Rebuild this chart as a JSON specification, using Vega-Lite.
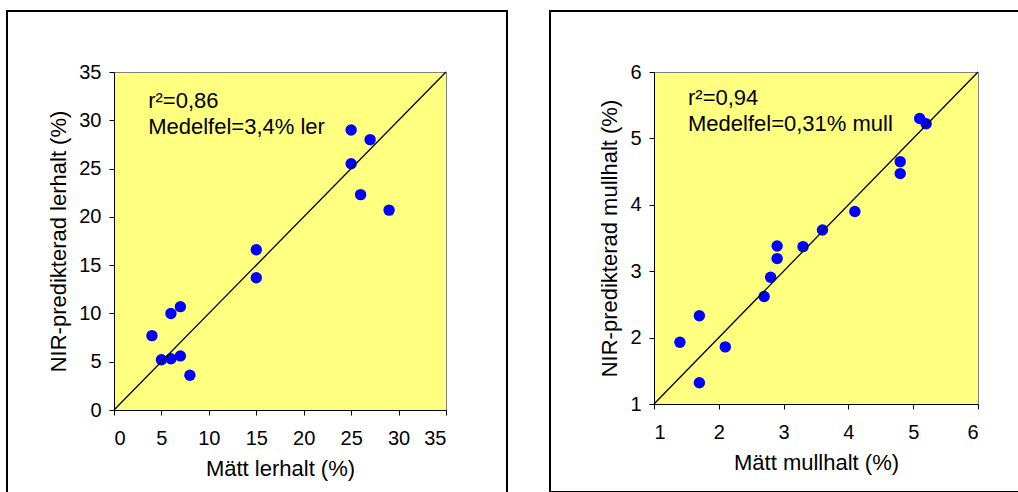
{
  "$schema": "https://vega.github.io/schema/vega-lite/v6.json",
  "padding": {"left": 5, "top": 9, "right": 0, "bottom": 0},
  "autosize": {"type": "pad"},
  "background": "white",
  "spacing": 39,
  "config": {
    "font": "Liberation Sans",
    "view": {"stroke": "#808080", "strokeWidth": 1, "fill": "#FFFF80"},
    "axis": {
      "grid": false,
      "domainColor": "black",
      "tickColor": "black",
      "tickSize": 5,
      "labelFontSize": 20,
      "labelColor": "black",
      "labelFont": "Liberation Sans",
      "titleFont": "Liberation Sans",
      "titleFontSize": 22,
      "titleFontWeight": "normal",
      "titleColor": "black"
    },
    "axisX": {"labelPadding": 13, "titlePadding": 10},
    "axisY": {"labelPadding": 8, "titlePadding": 8}
  },
  "hconcat": [
    {
      "width": 332,
      "height": 338,
      "layer": [
        {
          "data": {"values": [
            {"matt": 25, "pred": 29},
            {"matt": 27, "pred": 28},
            {"matt": 25, "pred": 25.5},
            {"matt": 26, "pred": 22.3},
            {"matt": 29, "pred": 20.7},
            {"matt": 15, "pred": 16.6},
            {"matt": 15, "pred": 13.7},
            {"matt": 7, "pred": 10.7},
            {"matt": 6, "pred": 10},
            {"matt": 4, "pred": 7.7},
            {"matt": 5, "pred": 5.2},
            {"matt": 6, "pred": 5.3},
            {"matt": 7, "pred": 5.6},
            {"matt": 8, "pred": 3.6}
          ]},
          "mark": {"type": "circle", "size": 130, "color": "#0000FF", "opacity": 1},
          "encoding": {
            "x": {"field": "matt", "type": "quantitative",
                  "scale": {"domain": [0, 35], "nice": false, "zero": false},
                  "axis": {"values": [0, 5, 10, 15, 20, 25, 30, 35], "format": "d", "title": "Mätt lerhalt (%)"}},
            "y": {"field": "pred", "type": "quantitative",
                  "scale": {"domain": [0, 35], "nice": false, "zero": false},
                  "axis": {"values": [0, 5, 10, 15, 20, 25, 30, 35], "format": "d", "title": "NIR-predikterad lerhalt (%)"}}
          }
        },
        {
          "data": {"values": [{}]},
          "mark": {"type": "rule", "color": "black", "strokeWidth": 1.3},
          "encoding": {"x": {"datum": 0}, "y": {"datum": 0}, "x2": {"datum": 35}, "y2": {"datum": 35}}
        },
        {
          "data": {"values": [{}]},
          "mark": {"type": "text", "text": ["r²=0,86", "Medelfel=3,4% ler"], "align": "left", "baseline": "alphabetic", "lineHeight": 26, "fontSize": 22, "color": "black"},
          "encoding": {"x": {"datum": 3.6}, "y": {"datum": 31.3}}
        },
        {
          "data": {"values": [{}]},
          "mark": {"type": "rule", "color": "black", "strokeWidth": 2, "clip": false, "strokeCap": "square"},
          "encoding": {"x": {"datum": -11.28}, "x2": {"datum": 41.43}, "y": {"datum": 41.32}}
        },
        {
          "data": {"values": [{}]},
          "mark": {"type": "rule", "color": "black", "strokeWidth": 2, "clip": false, "strokeCap": "square"},
          "encoding": {"x": {"datum": -11.28}, "y": {"datum": -8.49}, "y2": {"datum": 41.32}}
        },
        {
          "data": {"values": [{}]},
          "mark": {"type": "rule", "color": "black", "strokeWidth": 2, "clip": false, "strokeCap": "square"},
          "encoding": {"x": {"datum": 41.43}, "y": {"datum": -8.49}, "y2": {"datum": 41.32}}
        }
      ]
    },
    {
      "width": 324,
      "height": 332,
      "layer": [
        {
          "data": {"values": [
            {"matt": 5.1, "pred": 5.3},
            {"matt": 5.2, "pred": 5.22},
            {"matt": 4.8, "pred": 4.65},
            {"matt": 4.8, "pred": 4.47},
            {"matt": 4.1, "pred": 3.9},
            {"matt": 3.6, "pred": 3.62},
            {"matt": 3.3, "pred": 3.37},
            {"matt": 2.9, "pred": 3.38},
            {"matt": 2.9, "pred": 3.19},
            {"matt": 2.8, "pred": 2.91},
            {"matt": 2.7, "pred": 2.62},
            {"matt": 1.7, "pred": 2.33},
            {"matt": 1.4, "pred": 1.93},
            {"matt": 2.1, "pred": 1.86},
            {"matt": 1.7, "pred": 1.32}
          ]},
          "mark": {"type": "circle", "size": 130, "color": "#0000FF", "opacity": 1},
          "encoding": {
            "x": {"field": "matt", "type": "quantitative",
                  "scale": {"domain": [1, 6], "nice": false, "zero": false},
                  "axis": {"values": [1, 2, 3, 4, 5, 6], "format": "d", "title": "Mätt mullhalt (%)"}},
            "y": {"field": "pred", "type": "quantitative",
                  "scale": {"domain": [1, 6], "nice": false, "zero": false},
                  "axis": {"values": [1, 2, 3, 4, 5, 6], "format": "d", "title": "NIR-predikterad mullhalt (%)"}}
          }
        },
        {
          "data": {"values": [{}]},
          "mark": {"type": "rule", "color": "black", "strokeWidth": 1.3},
          "encoding": {"x": {"datum": 1}, "y": {"datum": 1}, "x2": {"datum": 6}, "y2": {"datum": 6}}
        },
        {
          "data": {"values": [{}]},
          "mark": {"type": "text", "text": ["r²=0,94", "Medelfel=0,31% mull"], "align": "left", "baseline": "alphabetic", "lineHeight": 26, "fontSize": 22, "color": "black"},
          "encoding": {"x": {"datum": 1.525}, "y": {"datum": 5.5}}
        },
        {
          "data": {"values": [{}]},
          "mark": {"type": "rule", "color": "black", "strokeWidth": 2, "clip": false, "strokeCap": "square"},
          "encoding": {"x": {"datum": -0.605}, "x2": {"datum": 6.65}, "y": {"datum": 6.919}}
        },
        {
          "data": {"values": [{}]},
          "mark": {"type": "rule", "color": "black", "strokeWidth": 2, "clip": false, "strokeCap": "square"},
          "encoding": {"x": {"datum": -0.605}, "y": {"datum": -0.325}, "y2": {"datum": 6.919}}
        },
        {
          "data": {"values": [{}]},
          "mark": {"type": "rule", "color": "black", "strokeWidth": 2, "clip": false, "strokeCap": "square"},
          "encoding": {"x": {"datum": -0.605}, "x2": {"datum": 6.65}, "y": {"datum": -0.325}}
        }
      ]
    }
  ]
}
